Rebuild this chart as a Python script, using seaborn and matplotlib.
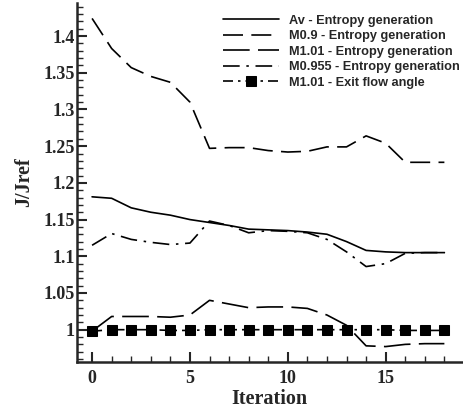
import numpy as np
import pandas as pd
import seaborn as sns
import matplotlib
matplotlib.use("Agg")
import matplotlib.pyplot as plt
from matplotlib.ticker import MultipleLocator

iteration = list(range(19))
av_entropy = [1.181, 1.179, 1.166, 1.160, 1.156, 1.150, 1.146, 1.142, 1.137, 1.136, 1.135, 1.133, 1.130, 1.120, 1.108, 1.106, 1.105, 1.105, 1.105]
m09_entropy = [1.424, 1.383, 1.357, 1.345, 1.337, 1.310, 1.247, 1.248, 1.248, 1.244, 1.242, 1.243, 1.249, 1.249, 1.264, 1.254, 1.228, 1.228, 1.228]
m101_entropy = [0.998, 1.018, 1.018, 1.018, 1.017, 1.020, 1.040, 1.035, 1.030, 1.031, 1.031, 1.029, 1.020, 1.006, 0.978, 0.977, 0.980, 0.981, 0.981]
m0955_entropy = [1.115, 1.131, 1.123, 1.119, 1.116, 1.118, 1.148, 1.142, 1.132, 1.135, 1.134, 1.132, 1.123, 1.106, 1.086, 1.090, 1.104, 1.105, 1.105]
m101_angle = [0.998, 1.0, 1.0, 1.0, 0.999, 0.999, 1.0, 1.0, 1.0, 1.0, 1.0, 1.0, 1.0, 1.0, 1.0, 1.0, 0.999, 0.999, 0.999]

series_names = ["Av - Entropy generation", "M0.9 - Entropy generation",
                "M1.01 - Entropy generation", "M0.955 - Entropy generation",
                "M1.01 - Exit flow angle"]
series_values = [av_entropy, m09_entropy, m101_entropy, m0955_entropy, m101_angle]

sns.set_style("ticks")
plt.rcParams["font.family"] = ["Liberation Serif", "DejaVu Serif"]

fig = plt.figure(figsize=(4.64, 4.16), dpi=100)
ax = fig.add_axes([77/464, 1 - 362/416, (462-77)/464, (362-3)/416])

dash_list = [None, (12, 5), (16, 5), (10, 4, 1.5, 4), (6, 3, 1.5, 3)]
marker_list = [None, None, None, None, "s"]

for name, vals, dsh, mk in zip(series_names, series_values, dash_list, marker_list):
    d = pd.DataFrame({"Iteration": iteration, "J/Jref": vals})
    kw = {}
    if dsh is not None:
        kw["dashes"] = dsh
    if mk is not None:
        kw.update(marker=mk, markersize=7.5, markeredgecolor="black", markerfacecolor="black")
    sns.lineplot(data=d, x="Iteration", y="J/Jref", color="black", linewidth=1.2,
                 ax=ax, label=name, **kw)

ax.set_xlim(-0.77, 18.9)
ax.set_ylim(0.956, 1.445)
ax.xaxis.set_major_locator(MultipleLocator(5))
ax.xaxis.set_minor_locator(MultipleLocator(1))
ax.yaxis.set_major_locator(MultipleLocator(0.05))
ax.yaxis.set_minor_locator(MultipleLocator(0.01))
ax.yaxis.set_major_formatter(matplotlib.ticker.FuncFormatter(lambda v, p: f"{v:.2f}".rstrip("0").rstrip(".")))
ax.tick_params(which="major", direction="in", length=7, width=1.5, labelsize=13)
ax.tick_params(which="minor", direction="in", length=4, width=1.0)
for lab in ax.get_xticklabels() + ax.get_yticklabels():
    lab.set_fontweight("bold")
ax.tick_params(axis="x", pad=6)
ax.tick_params(axis="y", pad=1.5)

sns.despine(ax=ax)
for s in ["left", "bottom"]:
    ax.spines[s].set_linewidth(1.8)

ax.set_xlabel("Iteration", fontsize=14.5, fontweight="bold", labelpad=1)
ax.set_ylabel("J/Jref", fontsize=14.5, fontweight="bold", labelpad=7)

leg = ax.legend(loc="upper left", bbox_to_anchor=((222.7 - 77) / 385, 0.967), frameon=False,
                prop={"family": ["Liberation Sans", "DejaVu Sans"], "weight": "bold", "size": 9.2},
                handlelength=4.4, handletextpad=0.75, labelspacing=0.27,
                borderpad=0, borderaxespad=0)

fig.savefig("out.png", dpi=100)
